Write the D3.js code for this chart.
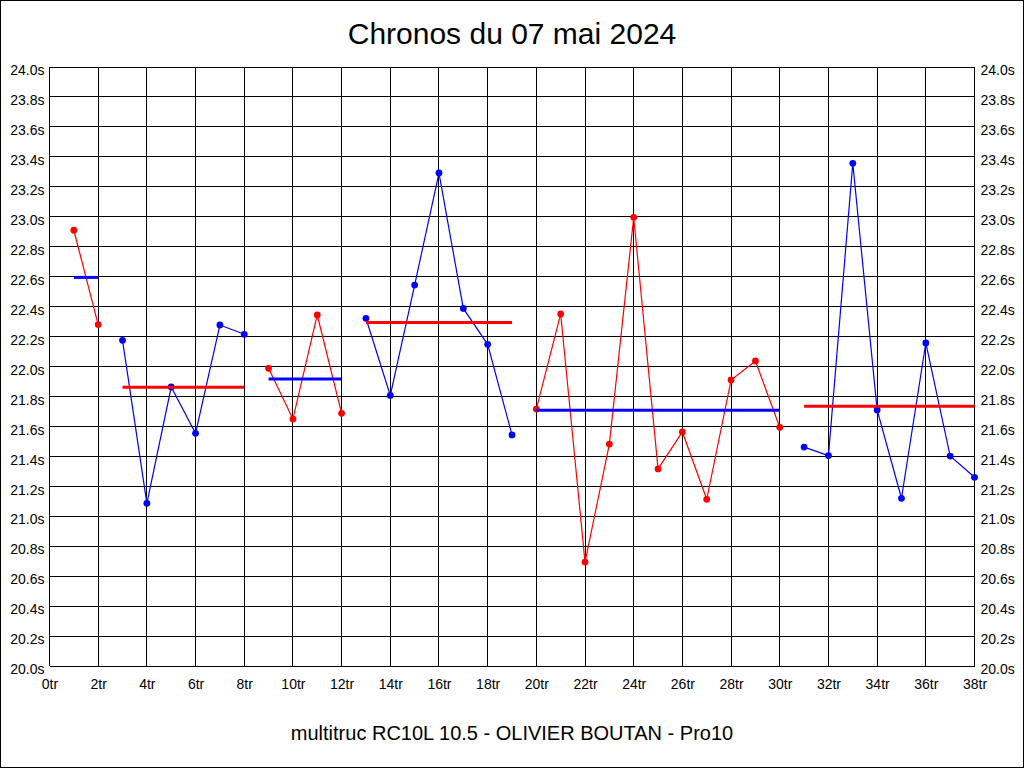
<!DOCTYPE html>
<html>
<head>
<meta charset="utf-8">
<script src="https://cdn.jsdelivr.net/npm/d3@7"></script>
<style>
  html, body { margin: 0; padding: 0; background: #fff; }
  svg { display: block; font-family: "Liberation Sans", Arial, sans-serif; }
</style>
</head>
<body>
<svg id="chart" width="1024" height="768"></svg>
<script>
// ---- Data ----
const titleText = "Chronos du 07 mai 2024";
const subtitleText = "multitruc RC10L 10.5 - OLIVIER BOUTAN - Pro10";

// lap times in seconds, lap 1 .. lap 38
const lapTimes = [
  22.91, 22.28,
  22.175, 21.086, 21.863, 21.554, 22.277, 22.215,
  21.988, 21.649, 22.344, 21.687,
  22.322, 21.807, 22.544, 23.292, 22.388, 22.148, 21.543,
  21.716, 22.351, 20.694, 21.482, 22.996, 21.316, 21.563, 21.113, 21.910, 22.037, 21.594,
  21.462, 21.405, 23.357, 21.710, 21.120, 22.157, 21.402, 21.260
];
// stints (runs): first lap, last lap, average time, point colour, average colour
const stintFirstLap = [1, 3, 9, 13, 20, 31];
const stintLastLap  = [2, 8, 12, 19, 30, 38];
const stintAverage  = [22.595, 21.862, 21.917, 22.293, 21.708, 21.735];
const stintColor    = ["#ff0000", "#0000ff", "#ff0000", "#0000ff", "#ff0000", "#0000ff"];
const stintAvgColor = ["#0000ff", "#ff0000", "#0000ff", "#ff0000", "#0000ff", "#ff0000"];

const xTickValues = [0, 2, 4, 6, 8, 10, 12, 14, 16, 18, 20, 22, 24, 26, 28, 30, 32, 34, 36, 38];
const yTickValues = [20.0, 20.2, 20.4, 20.6, 20.8, 21.0, 21.2, 21.4, 21.6, 21.8, 22.0,
                     22.2, 22.4, 22.6, 22.8, 23.0, 23.2, 23.4, 23.6, 23.8, 24.0];

// ---- Layout ----
const W = 1024, H = 768;
const plot = { left: 49.5, right: 974.5, top: 67, bottom: 666 };

const svg = d3.select("#chart");
svg.append("rect").attr("x", 0).attr("y", 0).attr("width", W).attr("height", H).attr("fill", "#fff");
svg.append("rect").attr("x", 0.5).attr("y", 0.5).attr("width", W - 1).attr("height", H - 1)
  .attr("fill", "none").attr("stroke", "#000").attr("stroke-width", 1);

const x = d3.scaleLinear().domain([0, 38]).range([plot.left, plot.right]);
const y = d3.scaleLinear().domain([20, 24]).range([plot.bottom, plot.top]);

const snap = v => Math.round(v - 0.5) + 0.5;

// grid
const grid = svg.append("g").attr("shape-rendering", "crispEdges");
grid.selectAll("line.v").data(xTickValues).enter().append("line")
  .attr("x1", d => snap(x(d))).attr("x2", d => snap(x(d)))
  .attr("y1", plot.top).attr("y2", plot.bottom)
  .attr("stroke", "#000").attr("stroke-width", 1);
grid.selectAll("line.h").data(yTickValues).enter().append("line")
  .attr("x1", plot.left).attr("x2", plot.right + 0.5)
  .attr("y1", d => snap(y(d))).attr("y2", d => snap(y(d)))
  .attr("stroke", "#000").attr("stroke-width", 1);

// axes (labels only, built from d3 axes)
const fmtY = d => d3.format(".1f")(d) + "s";
const fmtX = d => d + "tr";

const gxAxis = svg.append("g").attr("transform", `translate(0,${plot.bottom})`)
  .call(d3.axisBottom(x).tickValues(xTickValues).tickFormat(fmtX).tickSize(0).tickPadding(0));
gxAxis.select(".domain").remove();
gxAxis.selectAll("text").attr("font-family", "'Liberation Sans', Arial, sans-serif")
  .attr("font-size", 14).attr("fill", "#000").attr("dy", null).attr("y", 23);

const gyLeft = svg.append("g").attr("transform", `translate(${plot.left},0)`)
  .call(d3.axisLeft(y).tickValues(yTickValues).tickFormat(fmtY).tickSize(0).tickPadding(0));
gyLeft.select(".domain").remove();
gyLeft.selectAll("text").attr("font-family", "'Liberation Sans', Arial, sans-serif")
  .attr("font-size", 14).attr("fill", "#000").attr("x", -5).attr("dy", "0.55em");

const gyRight = svg.append("g").attr("transform", `translate(${plot.right},0)`)
  .call(d3.axisRight(y).tickValues(yTickValues).tickFormat(fmtY).tickSize(0).tickPadding(0));
gyRight.select(".domain").remove();
gyRight.selectAll("text").attr("font-family", "'Liberation Sans', Arial, sans-serif")
  .attr("font-size", 14).attr("fill", "#000").attr("x", 6).attr("dy", "0.55em");

// stints
const stints = stintFirstLap.map((f, i) => ({
  first: f, last: stintLastLap[i], avg: stintAverage[i],
  color: stintColor[i], avgColor: stintAvgColor[i],
  points: d3.range(f, stintLastLap[i] + 1).map(lap => ({ lap, t: lapTimes[lap - 1] }))
}));

const line = d3.line().x(d => x(d.lap)).y(d => y(d.t));

const gs = svg.append("g");
stints.forEach(s => {
  const g = gs.append("g");
  g.append("path").datum(s.points).attr("d", line)
    .attr("fill", "none").attr("stroke", s.color).attr("stroke-width", 1.2);
  g.selectAll("circle").data(s.points).enter().append("circle")
    .attr("cx", d => x(d.lap)).attr("cy", d => y(d.t)).attr("r", 3.4)
    .attr("fill", s.color);
});
stints.forEach(s => {
  gs.append("line")
    .attr("x1", x(s.first)).attr("x2", x(s.last))
    .attr("y1", y(s.avg)).attr("y2", y(s.avg))
    .attr("stroke", s.avgColor).attr("stroke-width", 3);
});

// titles
svg.append("text").attr("x", 512).attr("y", 44).attr("text-anchor", "middle")
  .attr("font-size", 30).attr("fill", "#000").text(titleText);
svg.append("text").attr("x", 512).attr("y", 740).attr("text-anchor", "middle")
  .attr("font-size", 20).attr("fill", "#000").text(subtitleText);
</script>
</body>
</html>
